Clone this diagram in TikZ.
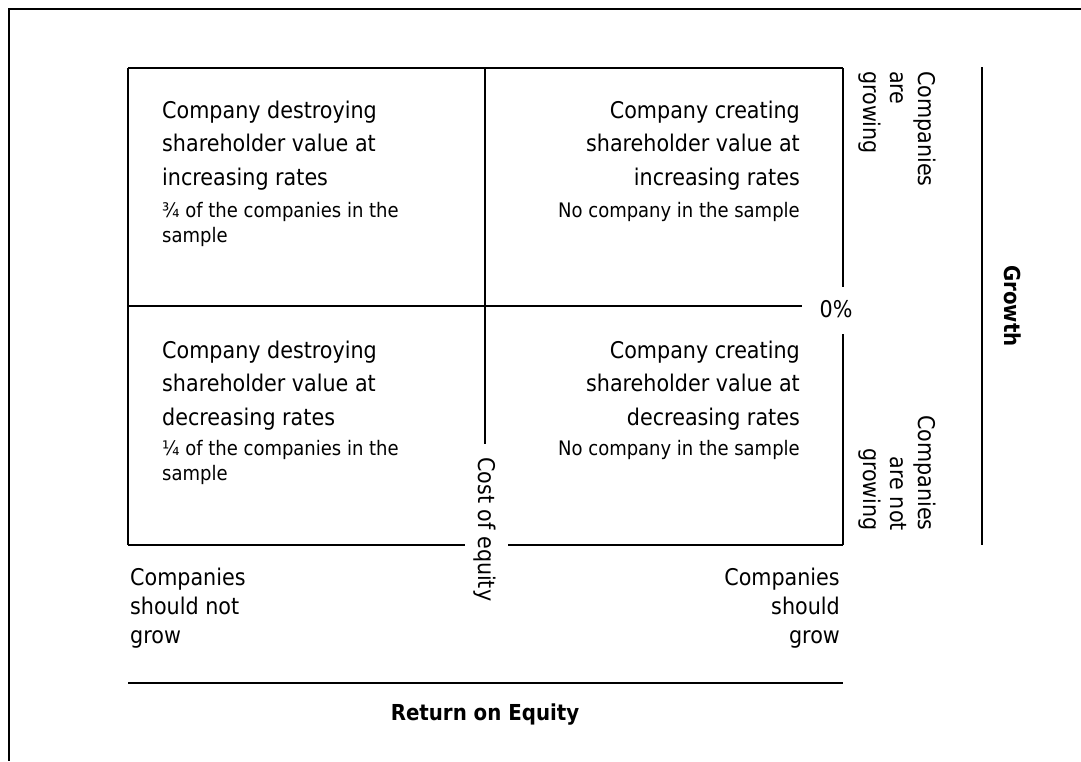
\documentclass[tikz,border=0pt]{standalone}
\usepackage{fontspec}
\setmainfont{DejaVu Sans Condensed}
\begin{document}
\begin{tikzpicture}[x=1pt,y=-1pt,
  big/.style={font=\fontsize{23}{33.5}\selectfont, inner sep=0pt},
  small/.style={font=\fontsize{20}{25}\selectfont, inner sep=0pt},
  side/.style={font=\fontsize{23}{27.5}\selectfont, inner sep=0pt},
  under/.style={font=\fontsize{23}{29}\selectfont, inner sep=0pt},
  axislabel/.style={font=\bfseries\fontsize{22}{26}\selectfont, inner sep=0pt},
  grid/.style={line width=1.3pt},
  axis/.style={line width=2.4pt},
  frame/.style={line width=2.3pt, line join=miter}]
\useasboundingbox (0,0) rectangle (1081,761);

% outer frame (open at right and bottom)
\draw[frame] (1081,9) -- (9,9) -- (9,761);

% corner points of the matrix
\coordinate (nw) at (128,68);
\coordinate (ne) at (843,68);
\coordinate (sw) at (128,545);
\coordinate (se) at (843,545);
\coordinate (mt) at (485,68);
\coordinate (ml) at (128,306);

% labels on the dividing lines
\node[big, anchor=base] (zero) at (836,317) {0\%};
\node[big, rotate=-90, anchor=base west] (coe) at (478,457) {Cost of equity};

% matrix lines
\draw[grid] (nw) -- (ne);
\draw[grid] (nw) -- (sw);
\draw[grid] (sw) -- (465,545);
\draw[grid] (508,545) -- (se);
\draw[grid] (ne) -- (843,287);
\draw[grid] (843,334) -- (se);
\draw[grid] (mt) -- (485,444);
\draw[grid] (ml) -- (802,306);

% quadrant texts (base anchor sits on the last line)
\node[big, align=left, anchor=base west] (tlT) at (162,185)
  {Company destroying\\shareholder value at\\increasing rates};
\node[small, align=left, anchor=base west] (tlS) at (162,242)
  {¾ of the companies in the\\sample};
\node[big, align=right, anchor=base east] (trT) at (800,185)
  {Company creating\\shareholder value at\\increasing rates};
\node[small, anchor=base east] (trS) at (800,217) {No company in the sample};
\node[big, align=left, anchor=base west] (blT) at (162,425)
  {Company destroying\\shareholder value at\\decreasing rates};
\node[small, align=left, anchor=base west] (blS) at (162,480)
  {¼ of the companies in the\\sample};
\node[big, align=right, anchor=base east] (brT) at (800,425)
  {Company creating\\shareholder value at\\decreasing rates};
\node[small, anchor=base east] (brS) at (800,455) {No company in the sample};

% side texts
\node[side, rotate=-90, align=left, anchor=base west] (grow) at (863,71)
  {Companies\\are\\growing};
\node[side, rotate=-90, align=right, anchor=base east] (nogrow) at (863,531)
  {Companies\\are not\\growing};
\node[under, align=left, anchor=base west] (nogr) at (130,643)
  {Companies\\should not\\grow};
\node[under, align=right, anchor=base east] (gr) at (840,643)
  {Companies\\should\\grow};

% axes
\coordinate (gtop) at (982,67);
\coordinate (gbot) at (982,545);
\coordinate (rl) at (128,683);
\coordinate (rr) at (843,683);
\draw[axis] (gtop) -- (gbot);
\draw[axis] (rl) -- (rr);
\node[axislabel, rotate=-90, anchor=base] (growth) at (1004,306) {Growth};
\node[axislabel, anchor=base] (roe) at (485,720) {Return on Equity};
\end{tikzpicture}
\end{document}
